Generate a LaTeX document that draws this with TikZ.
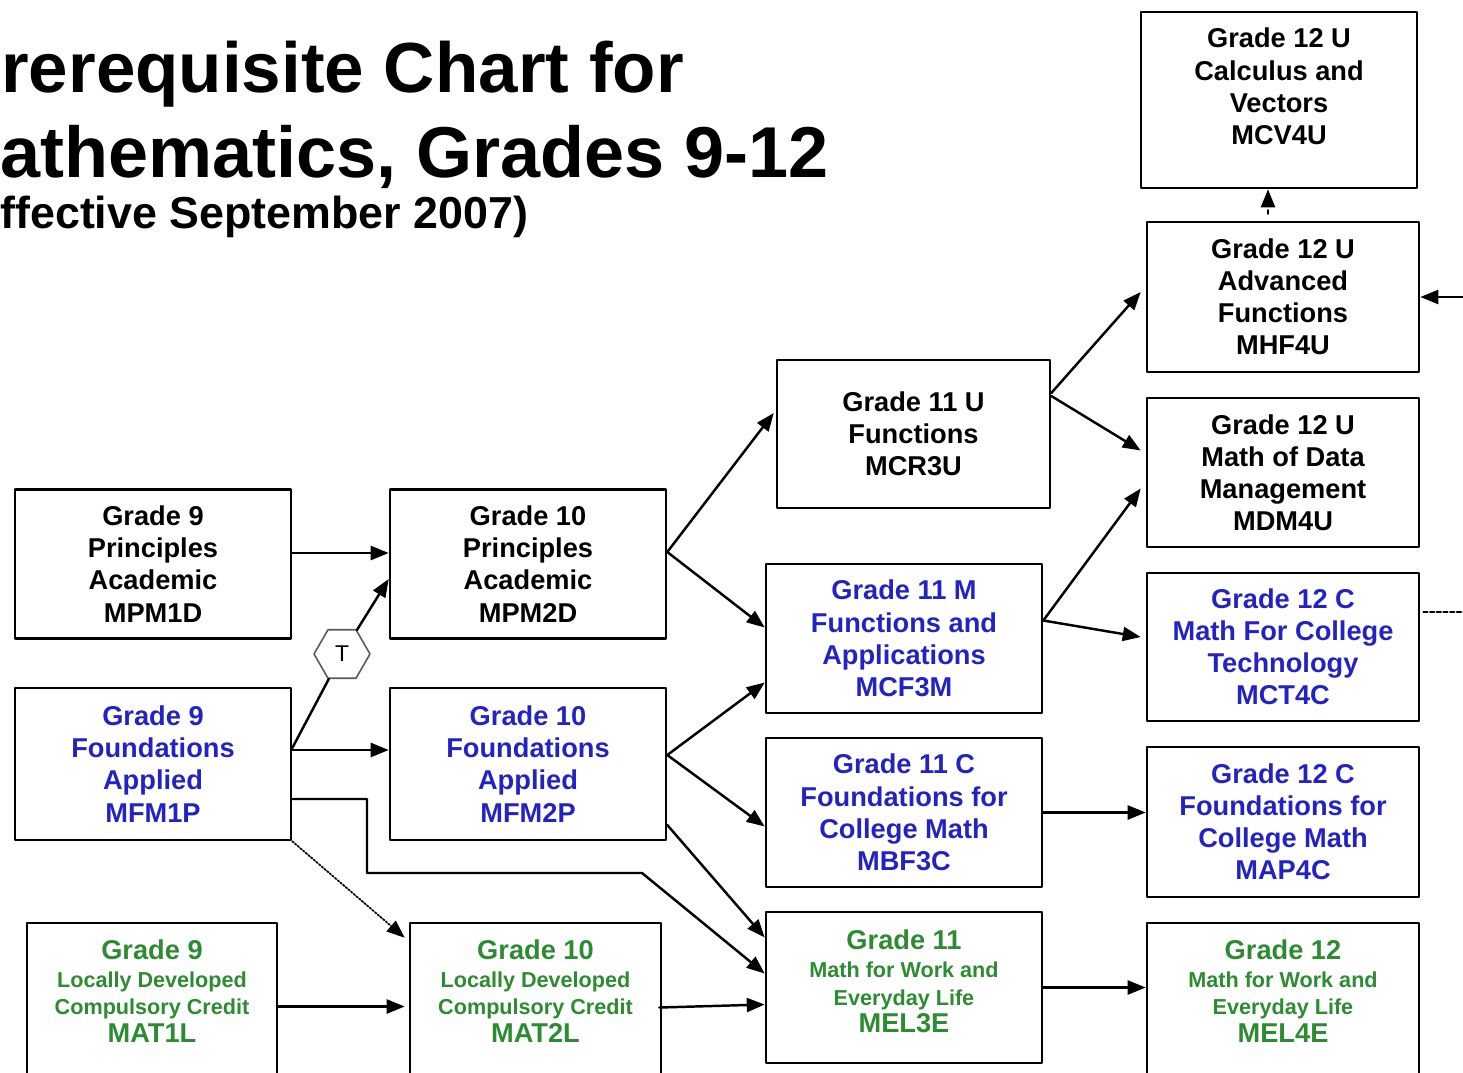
\documentclass[tikz,border=0pt]{standalone}
\usepackage{fontspec}
\setmainfont{Liberation Sans}
\usetikzlibrary{arrows.meta}
\usetikzlibrary{shapes}
\usetikzlibrary{calc}

\definecolor{appblue}{RGB}{35,35,195}
\definecolor{locgreen}{RGB}{45,140,50}
\newcommand{\smalltxt}[1]{{\fontsize{12.3}{15.8}\selectfont #1}}

\begin{document}
\begin{tikzpicture}[line cap=round, line join=round, >={Triangle[length=0.36cm,width=0.28cm]},
  x=0.02cm, y=-0.02cm,
  course/.style={draw, line width=1.5pt, align=center, inner sep=0pt, minimum width=5.52cm, minimum height=2.98cm, font=\bfseries\fontsize{15.5}{18.3}\selectfont},
  locbox/.style={course, text=locgreen, font=\bfseries\fontsize{15.5}{15.8}\selectfont},
  link/.style={->, line width=1.4pt},
  titletxt/.style={anchor=base west, inner sep=0pt, font=\bfseries\fontsize{41}{41}\selectfont}]

\useasboundingbox (0,0) rectangle (1463,1072);
\clip (0,0) rectangle (1463,1072);

\node[titletxt, font=\bfseries\fontsize{40.4}{41}\selectfont] (title1) at (1,92) {rerequisite Chart for};
\node[titletxt] (title2) at (0,177) {athematics, Grades 9-12};
\node[titletxt, font=\bfseries\fontsize{25.5}{25.5}\selectfont] (title3) at (0,228) {ffective September 2007)};

% grade 9
\node[course] (mpm1d) at (153,564) {Grade 9\\Principles\\Academic\\MPM1D};
\node[course, text=appblue, minimum height=3.04cm] (mfm1p) at (153,764) {Grade 9\\Foundations\\Applied\\MFM1P};
\node[locbox, minimum width=5cm, minimum height=3.02cm, text depth=0.3cm] (mat1l) at (152,998.5) {Grade 9\\\smalltxt{Locally Developed}\\\smalltxt{Compulsory Credit}\\MAT1L};

% grade 10
\node[course] (mpm2d) at (528,564) {Grade 10\\Principles\\Academic\\MPM2D};
\node[course, text=appblue, minimum height=3.04cm] (mfm2p) at (528,764) {Grade 10\\Foundations\\Applied\\MFM2P};
\node[locbox, minimum width=5.02cm, minimum height=3.02cm, text depth=0.3cm] (mat2l) at (535.5,998.5) {Grade 10\\\smalltxt{Locally Developed}\\\smalltxt{Compulsory Credit}\\MAT2L};

% grade 11
\node[course, minimum width=5.46cm, minimum height=2.96cm] (mcr3u) at (913.5,434) {Grade 11 U\\Functions\\MCR3U};
\node[course, text=appblue] (mcf3m) at (904,638.5) {Grade 11 M\\Functions and\\Applications\\MCF3M};
\node[course, text=appblue] (mbf3c) at (904,812.5) {Grade 11 C\\Foundations for\\College Math\\MBF3C};
\node[locbox, minimum height=3.02cm, text depth=0.25cm] (mel3e) at (904,987.5) {Grade 11\\\smalltxt{Math for Work and}\\\smalltxt{Everyday Life}\\MEL3E};

% grade 12
\node[course, minimum height=3.52cm, text depth=0.55cm] (mcv4u) at (1279,100) {Grade 12 U\\Calculus and\\Vectors\\MCV4U};
\node[course, minimum width=5.44cm, minimum height=3cm] (mhf4u) at (1283,297) {Grade 12 U\\Advanced\\Functions\\MHF4U};
\node[course, minimum width=5.44cm] (mdm4u) at (1283,472.5) {Grade 12 U\\Math of Data\\Management\\MDM4U};
\node[course, minimum width=5.44cm, minimum height=2.96cm, text=appblue] (mct4c) at (1283,647) {Grade 12 C\\Math For College\\Technology\\MCT4C};
\node[course, minimum width=5.44cm, minimum height=3cm, text=appblue] (map4c) at (1283,822) {Grade 12 C\\Foundations for\\College Math\\MAP4C};
\node[locbox, minimum width=5.44cm, minimum height=3.02cm, text depth=0.3cm] (mel4e) at (1283,998.5) {Grade 12\\\smalltxt{Math for Work and}\\\smalltxt{Everyday Life}\\MEL4E};

\node[draw=gray!70!black, line width=0.9pt, regular polygon, regular polygon sides=6, minimum size=1.12cm, inner sep=0pt, font=\fontsize{13}{13}\selectfont] (hex) at (342,654) {T};

% connectors
\draw[link] ($(mpm1d.east)+(0,-11)$) -- ($(mpm2d.west)+(0,-11)$);
\draw[link] ($(mfm1p.east)+(0,-14)$) -- ($(mfm2p.west)+(0,-14)$);
\draw[line width=1.4pt] ($(mfm1p.east)+(0,-16)$) -- (hex);
\draw[link] (hex) -- ($(mpm2d.west)+(0,15)$);
\draw[link] ($(mfm1p.east)+(0,35)$) -| (367,873) -- (642,873) -- ($(mel3e.west)+(0,-14)$);
\draw[->, line width=1pt, densely dotted] (mfm1p.south east) -- ($(mat2l.north west)+(-4,16)$);
\draw[link] ($(mat1l.east)+(0,8)$) -- ($(mat2l.west)+(-4,8)$);
\draw[link] ($(mat2l.east)+(-3,9)$) -- ($(mel3e.west)+(0,17)$);

\draw[link] ($(mpm2d.east)+(0,-12)$) -- ($(mcr3u.west)+(-2,-21)$);
\draw[link] ($(mpm2d.east)+(0,-12)$) -- ($(mcf3m.west)+(0,-11)$);
\draw[link] ($(mfm2p.east)+(0,-9)$) -- ($(mcf3m.west)+(0,44)$);
\draw[link] ($(mfm2p.east)+(0,-9)$) -- ($(mbf3c.west)+(0,14)$);
\draw[link] ($(mfm2p.east)+(0,61)$) -- ($(mel3e.west)+(0,-50)$);

\draw[link] ($(mcr3u.east)+(0,-41)$) -- ($(mhf4u.west)+(-5,-5)$);
\draw[link] ($(mcr3u.east)+(0,-38)$) -- ($(mdm4u.west)+(-5,-22)$);
\draw[link] ($(mcf3m.east)+(0,-18)$) -- ($(mdm4u.west)+(-5,16)$);
\draw[link] ($(mcf3m.east)+(0,-18)$) -- ($(mct4c.west)+(-5,-10)$);
\draw[link] (mbf3c.east) -- (mbf3c.east -| map4c.west);
\draw[link] (mel3e.east) -- (mel3e.east -| mel4e.west);

\coordinate (upx) at ($(mhf4u.north)+(-15,-7)$);
\draw[link, dash pattern=on 2pt off 2pt on 20pt off 0pt] (upx) -- (upx |- mcv4u.south);
\coordinate (offr) at (1475,297);
\draw[link] (offr) -- (mhf4u.east);
\coordinate (dashr) at ($(mct4c.east)+(3,-35)$);
\draw[line width=1pt, dash pattern=on 2.5pt off 1.3pt] (dashr) -- +(70,0);
\end{tikzpicture}
\end{document}
